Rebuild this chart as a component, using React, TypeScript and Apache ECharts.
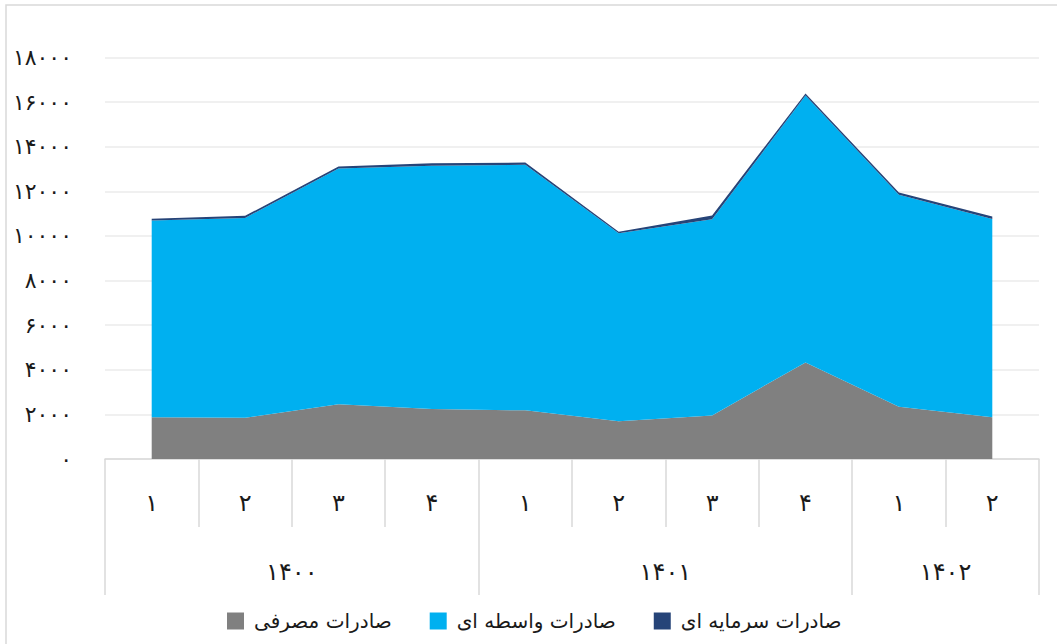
import React, { useEffect, useRef } from "react";
import * as echarts from "echarts";

const quarters = ["۱", "۲", "۳", "۴", "۱", "۲", "۳", "۴", "۱", "۲"];
const years = ["۱۴۰۰", "۱۴۰۱", "۱۴۰۲"];
const yearSpans = [4, 4, 2];

const seriesNames = ["صادرات مصرفی", "صادرات واسطه ای", "صادرات سرمایه ای"];
const consumerExports = [1870, 1850, 2460, 2240, 2180, 1690, 1955, 4330, 2340, 1870];
const intermediateExports = [8820, 8960, 10560, 10910, 11010, 8430, 8795, 11970, 9510, 8890];
const capitalExports = [80, 90, 90, 110, 100, 70, 170, 90, 100, 110];
const seriesColors = ["#808080", "#00B0F0", "#264478"];

const yMin = 0;
const yMax = 18000;
const yStep = 2000;

const toPersian = (s: string | number) =>
  String(s).replace(/[0-9]/g, (d) => "۰۱۲۳۴۵۶۷۸۹"[Number(d)]);

const FONT = "DejaVu Sans";

export default function App() {
  const ref = useRef<HTMLDivElement>(null);
  useEffect(() => {
    if (!ref.current) return;
    const chart = echarts.init(ref.current, undefined, { renderer: "svg" });

    const boundaries: number[] = [0];
    yearSpans.forEach((s) => boundaries.push(boundaries[boundaries.length - 1] + s));
    const centers = yearSpans.map((s, i) => boundaries[i] + s / 2);

    const values = [consumerExports, intermediateExports, capitalExports];

    chart.setOption({
      animation: false,
      textStyle: { fontFamily: FONT },
      graphic: [
        {
          type: "rect",
          shape: { x: 6, y: 5, width: 1200, height: 800 },
          style: { fill: "none", stroke: "#d9d9d9", lineWidth: 1.5 },
          silent: true,
        },
      ],
      grid: { left: 105, right: 18, top: 57.5, bottom: 185 },
      legend: {
        left: 222,
        top: 606,
        itemWidth: 17,
        itemHeight: 17,
        itemGap: 38,
        icon: "rect",
        data: seriesNames,
        textStyle: { fontFamily: FONT, fontSize: 20, color: "#1a1a1a", padding: [0, 0, 0, 5] },
      },
      xAxis: [
        {
          type: "category",
          data: quarters,
          boundaryGap: true,
          position: "bottom",
          axisLine: { show: true, lineStyle: { color: "#d9d9d9", width: 1.5 } },
          axisTick: { show: true, interval: 0, length: 68, lineStyle: { color: "#d9d9d9", width: 1.5 } },
          axisLabel: { interval: 0, margin: 32, fontSize: 24, color: "#1a1a1a", fontFamily: FONT },
          splitLine: { show: false },
        },
        {
          type: "value",
          min: 0,
          max: boundaries[boundaries.length - 1],
          position: "bottom",
          offset: 68,
          axisLine: { show: false },
          splitLine: { show: false },
          axisTick: {
            show: true,
            customValues: boundaries,
            length: 68,
            lineStyle: { color: "#d9d9d9", width: 1.5 },
          },
          axisLabel: {
            show: true,
            customValues: centers,
            margin: 33,
            fontSize: 24,
            color: "#1a1a1a",
            fontFamily: FONT,
            formatter: (v: number) => {
              const i = centers.findIndex((c) => Math.abs(c - v) < 1e-6);
              return i >= 0 ? years[i] : "";
            },
          },
        },
      ],
      yAxis: {
        type: "value",
        min: yMin,
        max: yMax,
        interval: yStep,
        axisLine: { show: false },
        axisTick: { show: false },
        axisLabel: {
          margin: 33,
          fontSize: 22,
          color: "#1a1a1a",
          fontFamily: FONT,
          formatter: (v: number) => toPersian(v),
        },
        splitLine: { show: true, lineStyle: { color: "#ebebeb", width: 1.5 } },
      },
      series: seriesNames.map((name, i) => ({
        name,
        type: "line",
        stack: "total",
        xAxisIndex: 0,
        data: values[i],
        showSymbol: false,
        symbol: "none",
        lineStyle: { width: 0 },
        itemStyle: { color: seriesColors[i] },
        areaStyle: { color: seriesColors[i], opacity: 1 },
      })),
    });
    return () => chart.dispose();
  }, []);
  return (
    <div
      ref={ref}
      style={{ position: "fixed", left: 0, top: 0, width: 1057, height: 644, background: "#fff" }}
    />
  );
}
